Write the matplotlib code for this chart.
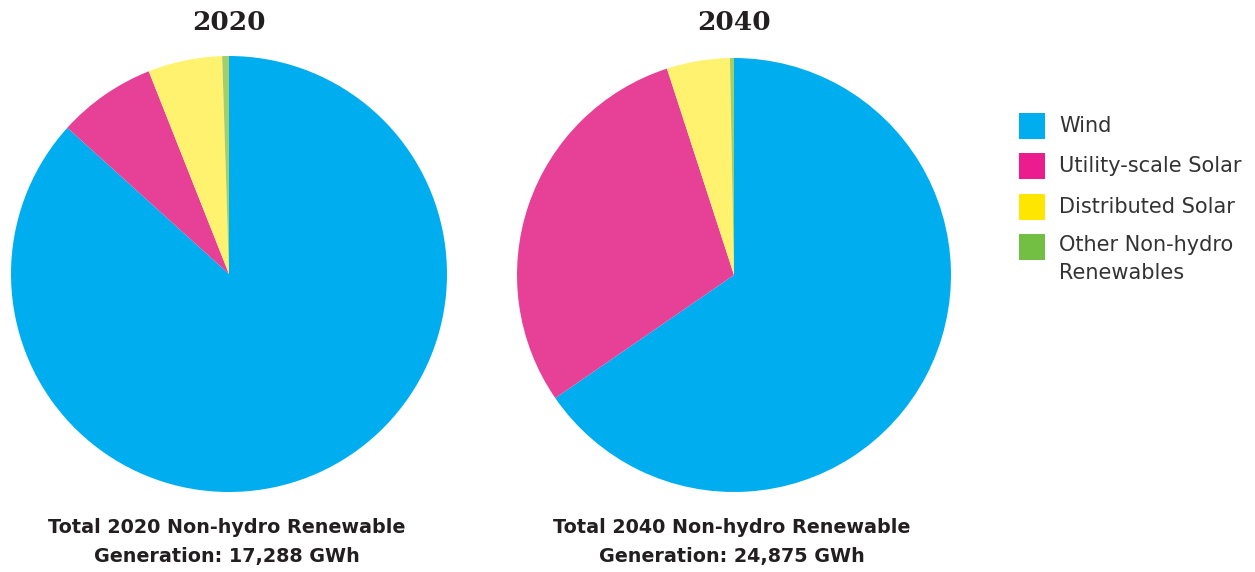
import matplotlib
matplotlib.use("Agg")
import matplotlib.pyplot as plt
from matplotlib.patches import Rectangle

categories = ["Wind", "Utility-scale Solar", "Distributed Solar", "Other Non-hydro\nRenewables"]
share_2020 = [86.7, 7.3, 5.5, 0.5]
share_2040 = [65.4, 29.6, 4.7, 0.3]
years = ["2020", "2040"]
totals = ["17,288", "24,875"]

pie_colors = ["#00AEEF", "#E64097", "#FFF26F", "#A3CE6A"]
legend_colors = ["#00AEEF", "#EC1C8E", "#FFE600", "#72BF44"]

W, H = 1255, 572
fig = plt.figure(figsize=(W / 100, H / 100), dpi=100)

centers = [(229, 274, 218), (734, 275, 217)]
for (cx, cy, r), vals, yr, tot in zip(centers, [share_2020, share_2040], years, totals):
    ax = fig.add_axes([(cx - r) / W, (H - cy - r) / H, 2 * r / W, 2 * r / H])
    ax.pie(vals, colors=pie_colors, startangle=90, counterclock=False,
           wedgeprops=dict(linewidth=0), radius=1.0)
    ax.set_xlim(-1, 1)
    ax.set_ylim(-1, 1)
    ax.set_aspect("equal")
    ax.axis("off")
    fig.text(cx / W, 1 - 22 / H, yr, ha="center", va="center",
             family="DejaVu Serif", weight="bold", fontsize=19, color="#231F20")
    fig.text((cx - 2) / W, 1 - 542 / H,
             f"Total {yr} Non-hydro Renewable\nGeneration: {tot} GWh",
             ha="center", va="center", family="DejaVu Sans", weight="bold",
             fontsize=13.8, color="#231F20", linespacing=1.65)

row_y = [126, 166, 207, 247]
for y, lab, col in zip(row_y, categories, legend_colors):
    fig.add_artist(Rectangle(((1019) / W, 1 - (y + 13) / H), 26 / W, 26 / H,
                             transform=fig.transFigure, facecolor=col, edgecolor="none"))
    multi = "\n" in lab
    ty = y - 12 if multi else y
    fig.text(1059 / W, 1 - ty / H, lab, ha="left", va="top" if multi else "center",
             family="DejaVu Sans", fontsize=15, color="#333333", linespacing=1.5)

fig.savefig("out.png", dpi=100)
